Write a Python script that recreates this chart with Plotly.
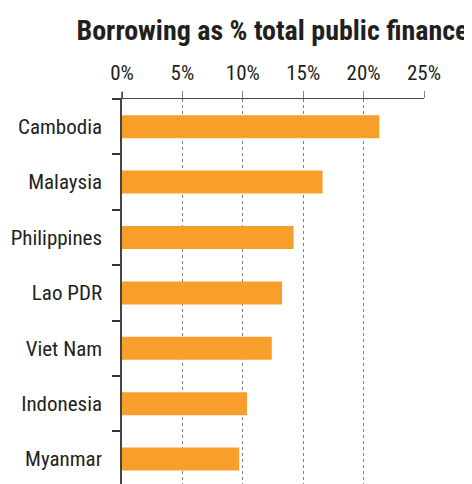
import plotly.graph_objects as go

countries = ["Cambodia", "Malaysia", "Philippines", "Lao PDR", "Viet Nam", "Indonesia", "Myanmar"]
borrowing_pct = [21.3, 16.6, 14.2, 13.25, 12.4, 10.35, 9.7]
x_tick_vals = [0, 5, 10, 15, 20, 25]
x_tick_text = ["0%", "5%", "10%", "15%", "20%", "25%"]
title_text = "Borrowing as % total public finance"

FONT = "Roboto Condensed"
TXT = "#231f20"

# the page body has an 8px default margin, so the figure is sized to fit the window
W, H = 464, 476

fig = go.Figure(
    go.Bar(
        x=borrowing_pct,
        y=countries,
        orientation="h",
        marker=dict(color="#F79F2A", line=dict(width=0)),
        hoverinfo="skip",
    )
)

fig.update_layout(
    width=W,
    height=H,
    margin=dict(l=114, r=48, t=91, b=0, autoexpand=False),
    paper_bgcolor="white",
    plot_bgcolor="white",
    bargap=0.585,
    showlegend=False,
    title=dict(
        text="<b>" + title_text + "</b>",
        font=dict(family=FONT, size=28, color=TXT),
        x=264.5 / W,
        xref="container",
        xanchor="center",
        y=1 - 22 / H,
        yref="container",
        yanchor="middle",
    ),
    font=dict(family=FONT, size=21, color=TXT),
)

fig.update_xaxes(
    side="top",
    range=[0, 25],
    tickvals=x_tick_vals,
    ticktext=x_tick_text,
    ticks="outside",
    ticklen=7,
    tickcolor="#888888",
    tickwidth=1,
    ticklabelstandoff=3,
    showgrid=True,
    gridcolor="#7f7f7f",
    griddash="dot",
    gridwidth=1,
    showline=True,
    linecolor="#444444",
    linewidth=1,
    zeroline=False,
    automargin=False,
    tickfont=dict(family=FONT, size=21, color=TXT),
)

fig.update_yaxes(
    type="category",
    categoryorder="array",
    categoryarray=countries,
    range=[6.45, -0.5],
    tickson="boundaries",
    ticks="outside",
    ticklen=8,
    tickcolor="#333333",
    tickwidth=1.5,
    ticklabelstandoff=14,
    showline=True,
    linecolor="#444444",
    linewidth=1.5,
    showgrid=False,
    zeroline=False,
    automargin=False,
    tickfont=dict(family=FONT, size=21, color=TXT),
)

# extend the top axis line slightly to the left, as in the reference
fig.add_shape(
    type="line",
    xref="paper",
    yref="paper",
    x0=-8 / 302,
    x1=0,
    y0=1,
    y1=1,
    line=dict(color="#444444", width=1),
)
# 0% tick joining the y-axis line
fig.add_shape(
    type="line",
    xref="paper",
    yref="paper",
    x0=0,
    x1=0,
    y0=1,
    y1=1 + 7 / 385,
    line=dict(color="#444444", width=1.5),
)

fig.write_html("out.html")
